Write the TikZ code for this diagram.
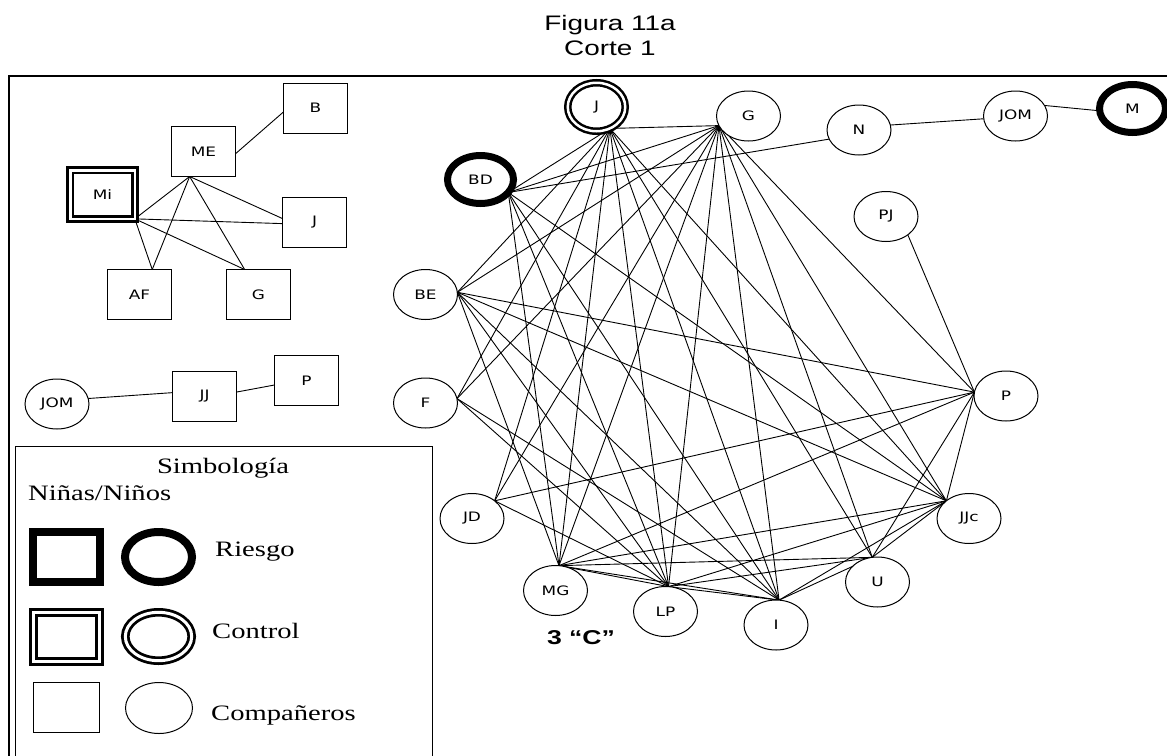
\documentclass[tikz,border=0pt]{standalone}
\usepackage{fontspec}
\setmainfont{Liberation Serif}
\newfontfamily\headfont[FakeStretch=1.33]{Liberation Sans}
\newfontfamily\namefont[FakeStretch=1.3]{DejaVu Sans}
\newfontfamily\keyfont[FakeStretch=1.3]{Liberation Serif}
\usetikzlibrary{shapes.geometric,backgrounds}

\tikzset{
  pers/.style={ellipse, draw, fill=white, line width=1pt, minimum width=64pt,
    minimum height=50pt, inner sep=0pt, outer sep=0pt,
    font=\namefont\fontsize{13}{15}\selectfont},
  riskpers/.style={pers, line width=7pt, minimum width=66pt, minimum height=48pt},
  ctrlpers/.style={pers, line width=2.5pt, double, double distance=2.5pt,
    minimum width=57.5pt, minimum height=48.5pt},
  kid/.style={rectangle, draw, fill=white, line width=1pt, minimum width=64pt,
    minimum height=50pt, inner sep=0pt, outer sep=0pt,
    font=\namefont\fontsize{13}{15}\selectfont},
  ctrlkid/.style={kid, line width=2.8pt, double, double distance=2.7pt,
    minimum width=64.7pt, minimum height=48.7pt},
  tie/.style={line width=0.9pt},
  headtext/.style={font=\headfont\fontsize{21}{23}\selectfont, inner sep=0pt, anchor=base},
  keytext/.style={font=\keyfont\fontsize{22}{24}\selectfont, inner sep=0pt, anchor=base west},
}

\begin{document}
\begin{tikzpicture}[x=1pt,y=-1pt]
\useasboundingbox (0,0) rectangle (1167,755);

% heading
\node[headtext] (head1) at (610,30) {Figura 11a};
\node[headtext] (head2) at (610,55) {Corte 1};

% outer frame
\draw[line width=2.5pt] (9,76) rectangle (1190,790);

% ---------- group on the left (squares) ----------
\node[kid] (Bb)  at (315.5,108) {B};
\node[kid] (MEb) at (203.5,151.5) {ME};
\node[ctrlkid] (Mib) at (102.5,194.5) {Mi};
\node[kid] (Jb)  at (314.5,222.5) {J};
\node[kid] (AFb) at (139.5,294.5) {AF};
\node[kid] (Gb)  at (258.5,294.5) {G};

\node[kid] (Pb)  at (306.5,380.5) {P};
\node[kid] (JJb) at (204.5,396) {JJ};
\node[pers] (JOMl) at (57,404) {JOM};

\begin{scope}[on background layer]
  \draw[tie] (MEb.-4.4) -- (Bb.187);
  \draw[tie] (MEb.-119.6) -- (Mib.south east);
  \draw[tie] (MEb.-119.6) -- (AFb.63.9);
  \draw[tie] (MEb.-119.6) -- (Gb.119.6);
  \draw[tie] (MEb.-119.6) -- (Jb.173.9);
  \draw[tie] (Mib.south east) -- (Jb.182.6);
  \draw[tie] (Mib.south east) -- (AFb.63.9);
  \draw[tie] (Mib.south east) -- (Gb.119.6);
  \draw[tie] (JOMl.10) -- (JJb.174.7);
  \draw[tie] (JJb.7) -- (Pb.188);
\end{scope}

% ---------- network on the right (circles) ----------
\node[ctrlpers] (J)   at (596.5,107) {J};
\node[pers]     (G)   at (748.5,116) {G};
\node[pers]     (N)   at (859,130) {N};
\node[pers]     (JOM) at (1015.5,116) {JOM};
\node[riskpers] (M)   at (1132.5,108.5) {M};
\node[riskpers] (BD)  at (480.5,179.5) {BD};
\node[pers]     (PJ)  at (886,216.5) {PJ};
\node[pers]     (BE)  at (425.5,294.5) {BE};
\node[pers]     (F)   at (425.5,403) {F};
\node[pers]     (P)   at (1006,396) {P};
\node[pers]     (JD)  at (472,518.5) {JD};
\node[pers]     (JJc) at (969,518.5) {JJc};
\node[pers]     (MG)  at (555.5,590.5) {MG};
\node[pers]     (U)   at (877.5,582) {U};
\node[pers]     (LP)  at (665.5,611.5) {LP};
\node[pers]     (I)   at (776,625) {I};

% points where the ties of each circle meet
\coordinate (h-J)   at (J.-58);
\coordinate (h-G)   at (G.198);
\coordinate (h-BD)  at (BD.-25.5);
\coordinate (h-BE)  at (BE.4.4);
\coordinate (h-F)   at (F.8.7);
\coordinate (h-JD)  at (JD.38.8);
\coordinate (h-MG)  at (MG.82.5);
\coordinate (h-LP)  at (LP.83.8);
\coordinate (h-I)   at (I.83.4);
\coordinate (h-U)   at (U.102);
\coordinate (h-JJc) at (JJc.142);
\coordinate (h-P)   at (P.173);
\coordinate (h-PJ)  at (PJ.-40.5);

\begin{scope}[on background layer]
  \foreach \a/\b in {J/G, J/BD, J/BE, J/F, J/JD, J/MG, J/LP, J/I, J/U, J/JJc,
      G/BD, G/BE, G/F, G/JD, G/MG, G/LP, G/I, G/U, G/JJc, G/P,
      BD/MG, BD/LP, BD/I, BD/JJc,
      BE/MG, BE/LP, BE/I, BE/JJc, BE/P,
      F/LP, F/I, JD/LP, JD/P,
      MG/LP, MG/I, MG/U, MG/JJc, MG/P,
      LP/I, LP/U, LP/JJc, I/U, I/JJc, U/JJc, U/P, JJc/P, PJ/P}
    \draw[tie] (h-\a) -- (h-\b);
  \draw[tie] (h-BD) -- (N.197);
  \draw[tie] (N.9) -- (JOM.185);
  \draw[tie] (JOM.20) -- (M.184);
\end{scope}

\node[font=\headfont\bfseries\fontsize{20}{22}\selectfont, inner sep=0pt, anchor=base]
  (cut) at (581,644) {3 “C”};

% ---------- key ----------
\draw[line width=1pt] (15,446) rectangle (432,790);
\node[keytext, anchor=base] (keyhead) at (223,473) {Simbología};
\node[keytext] (keysub) at (28,500.5) {Niñas/Niños};

\node[kid, line width=8pt, minimum width=67pt, minimum height=50pt] (kRsq) at (66.5,557) {};
\node[pers, line width=8pt, minimum width=67pt, minimum height=50pt] (kRci) at (158.5,557) {};
\node[keytext] (kRtx) at (215,556) {Riesgo};

\node[kid, line width=3pt, double, double distance=3pt, minimum width=66pt, minimum height=49pt] (kCsq) at (66.5,637) {};
\node[pers, line width=2.8pt, double, double distance=3pt, minimum width=66.4pt, minimum height=48.4pt] (kCci) at (158.5,636.5) {};
\node[keytext] (kCtx) at (212,638.5) {Control};

\node[kid, minimum width=66pt, minimum height=50pt] (kPsq) at (66.5,707.5) {};
\node[pers, minimum width=67pt, minimum height=51pt] (kPci) at (159,708) {};
\node[keytext] (kPtx) at (211,720.5) {Compañeros};

\end{tikzpicture}
\end{document}
